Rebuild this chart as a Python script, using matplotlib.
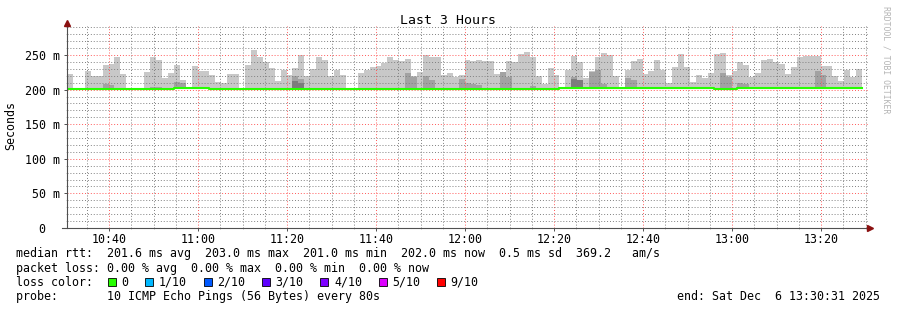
import numpy as np
import matplotlib
matplotlib.use('Agg')
from matplotlib import pyplot as plt
from matplotlib.patches import Rectangle

# smokeping style graph, last 3 hours, one step = 80 s
T_START = 30 + 31/60.   # minutes after 10:00 -> 10:30:31
T_END = T_START + 180
STEP = 80/60.

# max rtt of the smoke per step (ms), None = no smoke
smoke_max = [222.5, None, None, 227.5, 220, 220, 236, 237.5, 247, 222.5,
             None, None, None, 226, 247, 243, 217, 224, 235, 214,
             None, 234.5, 226.5, 227.5, 221, 211, 210, 222.5, 222.5, None,
             236, 257, 247, 240.5, 231, 212.5, 228.5, 221, 231, 249.5,
             220, 230, 247.5, 243.5, 220, 228.5, 221, None, None, 224,
             228.5, 232.5, 234.5, 239, 247, 243.5, 242, 245, 219.5, 226,
             249.5, 247, 247, 221, 223.5, 218, 221, 243.5, 242, 243.5,
             242, 242, 222.5, 225, 242, 239.5, 251, 255, 247.5, 219.5,
             207.5, 231, 221, None, 228.5, 248.5, 239.5, 217, 227.5, 247,
             252.5, 250, 219.5, None, 228.5, 242, 245, 222.5, 227, 243.5,
             228.5, 209.5, 232.5, 251, 232.5, 211, 221, 217, 223.5, 251,
             252.5, 221, 227, 239.5, 236, 218, 223.5, 242.5, 245, 239.5,
             237.5, 222.5, 233, 247, 248.5, 248.5, 248.5, 233.5, 234.5, 220,
             212.5, 228.5, 218, 230]

# denser smoke (middle pings)
mid_steps = [6, 7, 14, 15, 18, 19, 38, 39, 57, 58, 60, 61, 66, 67, 68, 69,
             73, 74, 78, 85, 86, 88, 89, 90, 94, 95, 110, 111, 113, 114, 126, 127]
mid_max = [208, 206.5, 204, 203.5, 211, 209.5, 220, 215, 224, 218, 219.5, 213.5, 215, 210, 207.5, 206,
           225, 218, 205, 218.5, 213.5, 226, 228.5, 207.5, 217, 213.5, 224.5, 218.5, 209.5, 207.5, 227, 221]
dark_steps = [38, 39, 85, 86]
dark_max = [212, 210, 215, 213.5]

# median rtt per step
median = [201.0, 201.0, 201.0, 201.0, 201.0, 201.0, 201.0, 201.0, 201.0, 201.0,
          201.0, 201.0, 201.0, 201.0, 201.0, 201.0, 201.0, 201.0, 203.0, 203.0,
          203.0, 203.0, 203.0, 203.0, 201.6, 201.6, 201.6, 201.6, 201.6, 201.6,
          201.6, 201.6, 201.6, 201.6, 201.6, 201.6, 201.6, 201.6, 201.6, 201.6,
          201.6, 201.6, 201.6, 201.6, 201.6, 201.6, 201.6, 201.6, 201.2, 201.2,
          201.2, 201.2, 201.2, 201.2, 201.2, 201.2, 201.2, 201.2, 201.2, 201.2,
          201.2, 201.2, 201.2, 201.2, 201.2, 201.2, 201.2, 201.2, 201.2, 201.2,
          201.2, 201.2, 201.2, 201.2, 201.2, 201.2, 201.2, 201.2, 201.2, 201.2,
          201.2, 201.2, 201.2, 202.0, 202.0, 202.0, 202.0, 202.0, 202.0, 202.0,
          202.0, 202.0, 202.0, 202.0, 202.0, 202.0, 202.0, 202.0, 202.0, 202.0,
          202.0, 202.0, 202.0, 202.0, 202.0, 202.0, 202.0, 202.0, 202.0, 201.2,
          201.2, 201.2, 201.2, 202.0, 202.0, 202.0, 202.0, 202.0, 202.0, 202.0,
          202.0, 202.0, 202.0, 202.0, 202.0, 202.0, 202.0, 202.0, 202.0, 202.0,
          202.0, 202.0, 202.0, 202.0]
SMOKE_BASE = 200.5

loss_labels = ['0', '1/10', '2/10', '3/10', '4/10', '5/10', '9/10']
loss_colors = ['#26ff00', '#00b8ff', '#0059ff', '#5e00ff', '#7e00ff', '#dd00ff', '#ff0000']

legend_lines = ['median rtt:  201.6 ms avg  203.0 ms max  201.0 ms min  202.0 ms now  0.5 ms sd  369.2   am/s',
                'packet loss: 0.00 % avg  0.00 % max  0.00 % min  0.00 % now',
                'loss color:',
                'probe:       10 ICMP Echo Pings (56 Bytes) every 80s']
end_text = 'end: Sat Dec  6 13:30:31 2025'

MONO = 'DejaVu Sans Mono'
FS = 8.35
W, H = 897, 310

def fx(x): return x / W
def fy(y): return 1 - y / H

fig = plt.figure(figsize=(W/100, H/100), dpi=100)
ax = fig.add_axes([fx(67), fy(228), 801/W, 202/H])

t = T_START + STEP * np.arange(len(smoke_max))

# smoke
ok = [i for i, v in enumerate(smoke_max) if v is not None]
ax.bar(t[ok], [smoke_max[i] - SMOKE_BASE for i in ok], bottom=SMOKE_BASE, width=STEP,
       align='edge', color='#c8c8c8', linewidth=0, zorder=1)
ax.bar(t[mid_steps], np.array(mid_max) - SMOKE_BASE, bottom=SMOKE_BASE, width=STEP,
       align='edge', color='#a2a2a2', linewidth=0, zorder=1.1)
ax.bar(t[dark_steps], np.array(dark_max) - SMOKE_BASE, bottom=SMOKE_BASE, width=STEP,
       align='edge', color='#7c7c7c', linewidth=0, zorder=1.2)

# median, coloured by loss (0 everywhere)
t_edge = np.append(t, t[-1] + STEP)
ax.step(t_edge, median + [median[-1]], where='post', color=loss_colors[0], lw=1.5, zorder=3)

ax.set_xlim(T_START, T_END)
ax.set_ylim(0, 292)

ax.set_xticks(np.arange(40, 201, 20))
ax.set_xticks(np.arange(35, 211, 5), minor=True)
ax.set_xticklabels(['%d:%02d' % (10 + m // 60, m % 60) for m in range(40, 201, 20)])
ax.set_yticks(np.arange(0, 251, 50))
ax.set_yticks(np.arange(0, 291, 10), minor=True)
ax.set_yticklabels(['%d m' % v if v > 0 else '0  ' for v in range(0, 251, 50)])

for lab in ax.get_xticklabels() + ax.get_yticklabels():
    lab.set_family(MONO)
    lab.set_fontsize(FS)

ax.tick_params(which='major', length=2.2, width=0.7, color='#505050', pad=2.8)
ax.tick_params(axis='x', which='major', pad=1.2)
ax.tick_params(which='minor', length=1.0, width=0.6, color='#b0b0b0')

# grid over the smoke, dotted like rrdtool
ax.grid(which='minor', color=(0.5, 0.5, 0.5, 0.22), lw=0.7, linestyle=(0, (1, 2)), zorder=2)
ax.grid(which='major', color=(1, 0.35, 0.35, 0.42), lw=0.7, linestyle=(0, (1, 2)), zorder=2)
ax.set_axisbelow(False)

for s in ax.spines.values(): s.set_visible(False)
ax.plot([0, 0], [0, 1.012], transform=ax.transAxes, color='#505050', lw=0.8, clip_on=False, zorder=4)
ax.plot([-0.006, 1.0], [0, 0], transform=ax.transAxes, color='#505050', lw=0.8, clip_on=False, zorder=4)
ax.plot([0], [1.017], marker='^', ms=3.8, color='#8b1010', transform=ax.transAxes, clip_on=False, zorder=5)
ax.plot([1.0028], [0], marker='>', ms=3.8, color='#8b1010', transform=ax.transAxes, clip_on=False, zorder=5)

# texts round the graph
fig.text(fx(448), fy(20), 'Last 3 Hours', ha='center', va='center', family=MONO, fontsize=9.5)
fig.text(fx(11), fy(126), 'Seconds', ha='center', va='center', rotation=90, family=MONO, fontsize=FS)
fig.text(fx(886), fy(60), 'RRDTOOL / TOBI OETIKER', ha='center', va='center', rotation=270,
         family=MONO, fontsize=5.9, color='#b4b4b4')

line_y = [254, 268.5, 282, 296.5]
for txt, y in zip(legend_lines, line_y):
    fig.text(fx(16), fy(y), txt, ha='left', va='center', family=MONO, fontsize=FS)
fig.text(fx(880), fy(296.5), end_text, ha='right', va='center', family=MONO, fontsize=FS)

# loss colour boxes
cw = 0.602 * FS * 100 / 72.
bx = 108
for lab, c in zip(loss_labels, loss_colors):
    fig.patches.append(Rectangle((fx(bx), fy(285.5)), 8/W, 8/H, facecolor=c, edgecolor='black',
                                 lw=0.6, transform=fig.transFigure, figure=fig))
    fig.text(fx(bx + 13.7), fy(282), lab, ha='left', va='center', family=MONO, fontsize=FS)
    bx = bx + 13.7 + len(lab) * cw + 16.7

plt.savefig('out.png', dpi=100)
